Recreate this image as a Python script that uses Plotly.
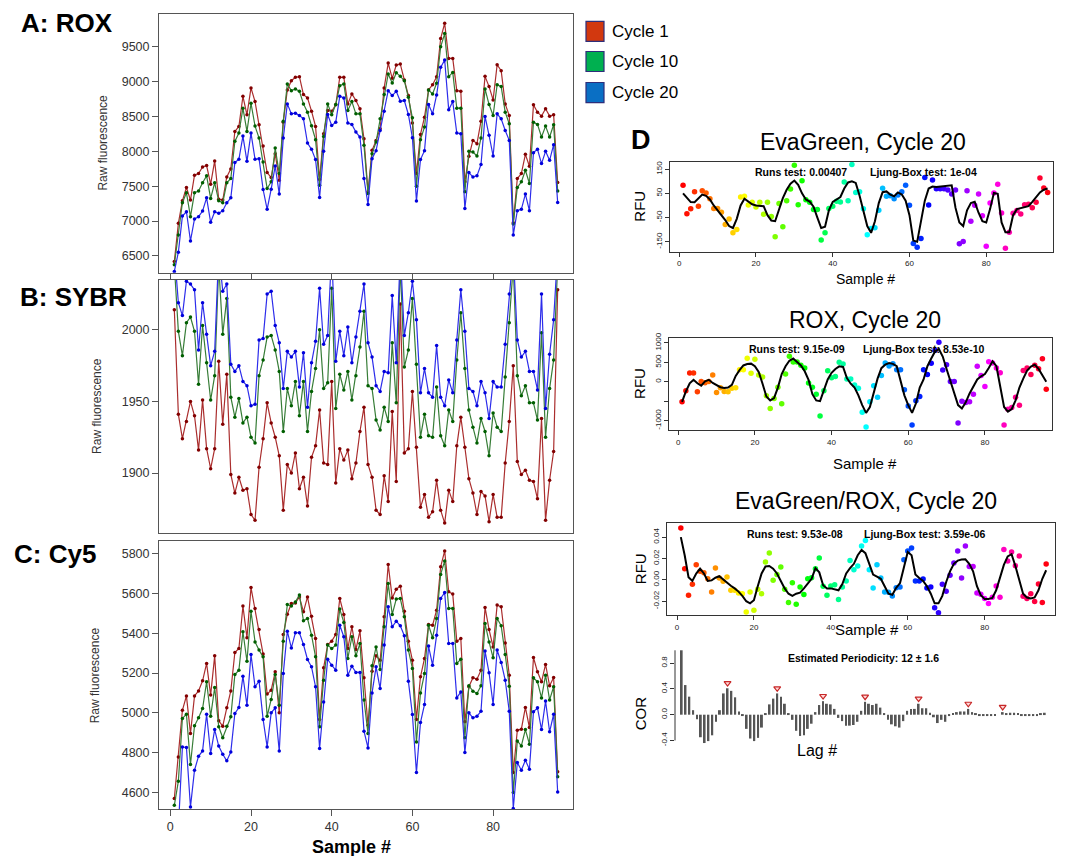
import colorsys
import plotly.graph_objects as go

# page body has an 8px margin, so the figure is 1060x848 and drawn at offset (8, 8)
W, H = 1060, 848
OFF = 8
FONT = "Liberation Sans, Arial, sans-serif"

samples = list(range(1, 97))

# ---------------- Panel A: ROX raw fluorescence ----------------
rox_c1 = [6419, 6967, 7290, 7481, 7300, 7657, 7681, 7776, 7795, 7529, 7862, 7314, 7300, 7633, 7748, 8286,
          8357, 8790, 8524, 8910, 8714, 8381, 8076, 7695, 7624, 7967, 7586, 8419, 8881, 9014, 9062, 9071,
          8814, 8767, 8576, 8357, 7595, 8252, 8586, 8576, 8667, 9062, 9062, 8681, 8824, 8729, 8610, 8181,
          7419, 8014, 8157, 8324, 8910, 9267, 9048, 9238, 9252, 9024, 8800, 8405, 7681, 8243, 8490, 8881,
          8957, 9071, 9619, 9838, 9333, 9333, 8871, 8862, 7562, 7929, 8157, 8110, 8433, 9076, 8929, 8738,
          9243, 9157, 8681, 8514, 6976, 7610, 7681, 7957, 7786, 8667, 8562, 8505, 8610, 8505, 8524, 7552]
rox_c10 = [6372, 6800, 7262, 7405, 7062, 7405, 7429, 7548, 7648, 7324, 7548, 7290, 7262, 7548, 7610, 8143,
           8262, 8619, 8286, 8690, 8362, 8190, 7848, 7467, 7562, 8048, 7681, 8433, 8967, 8871, 8895, 8862,
           8681, 8562, 8367, 8167, 7514, 8214, 8681, 8524, 8671, 8943, 8967, 8586, 8714, 8538, 8538, 8086,
           7395, 7967, 8133, 8467, 8814, 9110, 8981, 9129, 9076, 9014, 8776, 8481, 7500, 8167, 8348, 8881,
           8824, 8976, 9500, 9690, 9071, 9133, 8619, 8619, 7419, 8000, 7991, 7933, 8190, 8895, 8671, 8514,
           8957, 8929, 8562, 8395, 6957, 7481, 7562, 7729, 7538, 8419, 8386, 8205, 8362, 8205, 8381, 7429]
rox_c20 = [6276, 6552, 7071, 7133, 6714, 7029, 7062, 7143, 7333, 6981, 7133, 7110, 7148, 7262, 7333, 7838,
           7886, 8219, 7857, 8262, 7886, 7895, 7452, 7167, 7457, 7790, 7386, 8190, 8681, 8538, 8548, 8514,
           8467, 8119, 8029, 7881, 7338, 8000, 8529, 8371, 8419, 8790, 8767, 8405, 8386, 8276, 8205, 7610,
           7238, 7895, 8010, 8300, 8576, 8871, 8800, 8862, 8719, 8729, 8529, 8195, 7286, 7881, 8010, 8671,
           8538, 8810, 9205, 9310, 8595, 8714, 8262, 8252, 7181, 7695, 7633, 7648, 7810, 8500, 8229, 7933,
           8538, 8467, 8300, 8157, 6800, 7148, 7167, 7386, 7148, 7981, 8029, 7824, 8000, 7871, 8095, 7267]

# ---------------- Panel B: SYBR raw fluorescence ----------------
sybr_c1 = [2014, 1941, 1924, 1936, 1950, 1940, 1916, 1951, 1917, 1903, 1917, 1978, 1934, 1969, 1899, 1886,
           1897, 1888, 1889, 1871, 1867, 1904, 1924, 1949, 1935, 1925, 1912, 1874, 1906, 1900, 1914, 1889,
           1897, 1877, 1911, 1919, 1944, 1907, 1906, 1964, 1893, 1917, 1909, 1916, 1896, 1907, 1929, 1946,
           1906, 1897, 1874, 1871, 1898, 1880, 1943, 1894, 2018, 1914, 1917, 1957, 1918, 1876, 1885, 1869,
           1873, 1895, 1874, 1865, 1888, 1880, 1919, 1939, 1918, 1896, 1886, 1871, 1887, 1884, 1866, 1885,
           1869, 1869, 1907, 1936, 1975, 1908, 1899, 1902, 1895, 1894, 1882, 1938, 1867, 1895, 1915, 2028]
sybr_c10 = [2045, 1999, 1982, 2005, 2009, 1999, 1962, 2003, 1977, 1951, 1968, 2045, 1997, 2022, 1953, 1939,
            1952, 1935, 1939, 1925, 1921, 1968, 1979, 1995, 1996, 1986, 1971, 1929, 1959, 1947, 1964, 1940,
            1964, 1929, 1957, 1973, 2000, 1959, 1963, 2029, 1945, 1969, 1958, 1971, 1951, 1968, 1988, 2013,
            1961, 1959, 1937, 1930, 1946, 1936, 1991, 1949, 2045, 1974, 1986, 2022, 1976, 1925, 1941, 1926,
            1925, 1960, 1926, 1919, 1944, 1936, 1979, 2012, 1973, 1944, 1932, 1921, 1938, 1929, 1912, 1942,
            1932, 1929, 1967, 2005, 2045, 1968, 1954, 1961, 1949, 1949, 1937, 1998, 1925, 1959, 1979, 2045]
sybr_c20 = [2055, 2019, 2010, 2034, 2032, 2028, 1986, 2019, 1997, 1975, 1985, 2055, 2027, 2032, 1976, 1971,
            1975, 1964, 1961, 1947, 1948, 1993, 1994, 2025, 2027, 2003, 1991, 1959, 1985, 1981, 1985, 1960,
            1984, 1946, 1977, 1992, 2029, 1990, 1996, 2055, 1978, 1999, 1982, 2002, 1977, 1995, 2013, 2032,
            1991, 1981, 1961, 1957, 1971, 1970, 2024, 1977, 2055, 1996, 2012, 2034, 2007, 1956, 1973, 1956,
            1953, 1989, 1953, 1947, 1965, 1956, 1993, 2028, 1999, 1959, 1957, 1947, 1964, 1956, 1938, 1964,
            1960, 1960, 1990, 2025, 2055, 1993, 1981, 1985, 1971, 1971, 1958, 2025, 1945, 1983, 2007, 2055]

# ---------------- Panel C: Cy5 raw fluorescence ----------------
cy5_c1 = [4570, 4779, 5013, 5085, 4896, 5085, 5110, 5161, 5248, 5089, 5286, 4960, 4933, 5025, 5110, 5303,
          5323, 5536, 5377, 5629, 5524, 5418, 5295, 5094, 5114, 5206, 5000, 5393, 5495, 5549, 5552, 5582,
          5507, 5582, 5485, 5373, 4967, 5226, 5343, 5360, 5393, 5574, 5494, 5323, 5432, 5318, 5412, 5176,
          4938, 5209, 5286, 5264, 5482, 5745, 5577, 5621, 5636, 5510, 5360, 5264, 4967, 5181, 5273, 5444,
          5440, 5515, 5733, 5813, 5608, 5596, 5360, 5373, 4955, 5131, 5176, 5169, 5214, 5529, 5418, 5331,
          5541, 5532, 5351, 5189, 4700, 4913, 4918, 5027, 4926, 5278, 5206, 5156, 5243, 5136, 5177, 4704]
cy5_c10 = [4536, 4657, 4972, 4993, 4741, 4935, 4975, 5022, 5156, 4983, 5127, 4930, 4875, 4933, 4980, 5192,
           5214, 5407, 5259, 5510, 5356, 5315, 5281, 4983, 5067, 5192, 5038, 5360, 5544, 5536, 5557, 5591,
           5462, 5474, 5390, 5281, 4930, 5164, 5340, 5323, 5340, 5521, 5454, 5273, 5382, 5286, 5348, 5065,
           4896, 5236, 5331, 5218, 5432, 5649, 5494, 5571, 5574, 5482, 5315, 5223, 4854, 5100, 5197, 5440,
           5377, 5474, 5695, 5762, 5524, 5524, 5248, 5269, 4875, 5136, 5109, 5097, 5136, 5449, 5356, 5276,
           5474, 5437, 5293, 5134, 4600, 4859, 4834, 4916, 4843, 5176, 5156, 5075, 5189, 5065, 5131, 4679]
cy5_c20 = [4440, 4420, 4829, 4826, 4528, 4712, 4782, 4809, 4993, 4796, 4916, 4833, 4792, 4759, 4804, 4997,
           5027, 5184, 5038, 5293, 5131, 5159, 4967, 4829, 5000, 5025, 4808, 5197, 5410, 5326, 5402, 5402,
           5343, 5268, 5231, 5131, 4821, 5055, 5269, 5239, 5214, 5440, 5382, 5189, 5234, 5203, 5203, 4908,
           4824, 5100, 5231, 5122, 5340, 5532, 5432, 5460, 5437, 5387, 5159, 4992, 4700, 4951, 5042, 5335,
           5239, 5390, 5574, 5604, 5348, 5348, 5075, 5105, 4801, 5000, 4975, 4983, 5008, 5310, 5201, 5042,
           5315, 5253, 5164, 5008, 4520, 4751, 4712, 4762, 4717, 5005, 5025, 4916, 5059, 4905, 4993, 4603]

# ---------------- Panel D: detrended Cycle 20 signals and smooths ----------------
eva_pts = [83, -34, -14, 57, -3, 61, 51, 28, -12, -12, -28, -79, -56, -113, -99, 35,
           38, 2, 13, -6, 13, -36, 13, -45, -129, 8, -88, 20, 68, 166, 3, 102,
           24, 13, -17, -17, -142, -113, -12, -3, 17, 14, 97, 20, 169, 54, 57, -14,
           -121, -95, -92, -20, 71, 38, 40, 28, 43, 57, 83, 1, -157, -172, -136, 116,
           2, 105, 69, 69, 69, 64, 47, 64, -158, -149, 61, -65, 1, 47, -42, -168,
           10, 51, 88, -31, -177, -111, -32, -21, -35, 3, 5, -9, 13, 113, 72, 54]
eva_fit = [50, 30, 14, 13, 30, 45, 40, 25, 0, -20, -40, -60, -85, -93, -55, 0,
           28, 18, 5, 0, 0, -3, -40, -62, -65, -20, 30, 65, 90, 103, 85, 50,
           25, 16, -5, -50, -93, -88, -20, 15, 25, 35, 70, 95, 100, 93, 40, -20,
           -85, -113, -65, 10, 55, 58, 45, 38, 54, 45, 20, -40, -145, -150, -60, 20,
           70, 78, 76, 78, 80, 82, 83, -10, -70, -85, -20, 10, 15, -30, -65, -70,
           -15, 52, 48, -70, -110, -110, -40, -15, -10, -5, -3, 15, 35, 54, 65, 70]

rox_pts = [-517, -233, 224, 224, -259, 9, -26, 9, 172, -276, -155, -250, -259, -164, -155, 310,
           310, 603, 216, 578, 172, 121, -362, -690, -431, -138, -569, 198, 655, 509, 509, 422,
           353, -34, -138, -319, -879, -233, 284, 103, 138, 500, 457, 69, 69, -86, -164, -784,
           -1164, -517, -103, -397, 164, 483, 405, 466, 310, 310, -207, -621, -1112, -491, -379, 310,
           190, 474, 810, 1017, 302, 440, 9, 9, -1060, -500, -534, -517, -319, 397, 164, -121,
           517, 483, 353, 233, -1112, -707, -664, -397, -603, 293, 353, 190, 422, 336, 595, -190]
rox_fit = [-517, -250, -40, 50, -40, -100, 10, 50, -30, -90, -140, -160, -150, -78, 150, 300,
           420, 455, 466, 400, 250, -50, -380, -480, -420, -150, 200, 400, 540, 600, 510, 420,
           270, 50, -320, -480, -500, -200, 60, 230, 330, 397, 380, 95, -50, -150, -350, -600,
           -800, -650, -250, 80, 350, 440, 480, 460, 400, 50, -350, -600, -800, -560, -150, 60,
           400, 600, 780, 845, 650, 330, 0, -300, -600, -690, -530, -300, -121, 60, 140, 200,
           353, 526, 400, -120, -650, -767, -700, -480, -150, 80, 290, 390, 440, 330, 150, 0]

ratio_pts = [0.0484, 0.0105, -0.0144, -0.0042, 0.0142, 0.0080, 0.0067, 0.0011, -0.0113, 0.0111, 0.0017, -0.0014,
             0.0027, -0.0098, -0.0098, -0.0123, -0.0129, -0.0300, -0.0113, -0.0284, -0.0088, -0.0129, 0.0167, 0.0251,
             -0.0004, 0.0049, 0.0120, -0.0088, -0.0213, -0.0026, -0.0228, -0.0067, -0.0138, 0.0011, 0.0020, 0.0105,
             0.0204, -0.0060, -0.0144, -0.0057, -0.0045, -0.0185, -0.0067, -0.0011, 0.0182, 0.0095, 0.0129, 0.0316,
             0.0369, 0.0095, -0.0076, 0.0142, 0.0017, -0.0113, -0.0116, -0.0150, -0.0073, -0.0067, 0.0189, 0.0269,
             0.0297, -0.0011, -0.0011, 0.0008, -0.0076, -0.0067, -0.0262, -0.0309, -0.0042, -0.0107, 0.0042, 0.0157,
             0.0269, 0.0017, 0.0316, 0.0126, 0.0126, -0.0123, -0.0135, -0.0175, -0.0222, -0.0163, -0.0057, -0.0163,
             0.0285, 0.0176, 0.0260, 0.0133, 0.0223, -0.0153, -0.0175, -0.0129, -0.0203, -0.0039, -0.0213, 0.0148]
ratio_fit = [0.040, 0.023, 0.0025, -0.001, 0.0058, 0.0105, 0.006, -0.001, -0.0005, 0.002, 0.0035, 0.0005,
             -0.003, -0.0055, -0.008, -0.011, -0.015, -0.020, -0.022, -0.019, -0.006, 0.006, 0.0125, 0.013,
             0.0105, 0.006, -0.001, -0.008, -0.013, -0.015, -0.013, -0.012, -0.008, -0.003, 0.001, 0.011,
             0.007, -0.005, -0.008, -0.008, -0.009, -0.0098, -0.004, 0.006, 0.011, 0.015, 0.023, 0.028,
             0.025, 0.014, 0.005, 0.003, 0.001, -0.006, -0.013, -0.014, -0.0075, -0.003, 0.012, 0.026,
             0.023, 0.005, 0.0017, -0.001, -0.006, -0.013, -0.022, -0.022, -0.015, -0.002, 0.008, 0.015,
             0.018, 0.019, 0.0192, 0.015, 0.008, -0.006, -0.0144, -0.018, -0.018, -0.017, -0.0098, 0.002,
             0.014, 0.022, 0.024, 0.013, -0.0005, -0.013, -0.0165, -0.0175, -0.0165, -0.0098, 0.001, 0.009]

lags = list(range(0, 96))
acf_vals = [1.0, 0.46, 0.28, 0.07, -0.07, -0.35, -0.44, -0.41, -0.32, -0.11, 0.07, 0.33,
            0.41, 0.37, 0.27, 0.05, -0.02, -0.22, -0.37, -0.41, -0.36, -0.20, 0.02, 0.16,
            0.25, 0.33, 0.28, 0.17, 0.02, -0.08, -0.25, -0.33, -0.32, -0.22, -0.14, 0.04,
            0.15, 0.21, 0.17, 0.16, 0.09, -0.05, -0.10, -0.17, -0.17, -0.16, -0.11, 0.06,
            0.20, 0.17, 0.15, 0.17, 0.11, 0.02, -0.08, -0.15, -0.18, -0.20, -0.10, 0.06,
            0.09, 0.09, 0.17, 0.10, 0.10, 0.03, -0.04, -0.13, -0.08, -0.11, -0.02, 0.02,
            0.04, 0.05, 0.05, 0.09, 0.04, 0.01, -0.01, -0.01, -0.02, -0.01, -0.01, 0.00,
            0.04, 0.01, 0.03, 0.03, 0.02, -0.02, -0.02, -0.02, -0.02, -0.01, 0.01, 0.03]
peak_lags = [12, 25, 37, 48, 62, 75, 84]

legend_labels = ["Cycle 1", "Cycle 10", "Cycle 20"]
legend_colors = ["#D2380F", "#00B050", "#0A6FC4"]

# ---------------- helpers (page pixels -> paper fractions) ----------------
def X(px):
    return (px - OFF) / W

def Y(py):
    # small empirical vertical correction so the rendered page matches the target pixels
    py = py - 6.3 * (792 - py) / 746
    v = 1 - (py - OFF) / H
    return min(1.0, max(0.0, v))

line_cols = ["rgb(170,45,45)", "rgb(55,125,55)", "rgb(45,45,235)"]
mark_cols = ["rgb(130,0,0)", "rgb(0,95,0)", "rgb(0,0,220)"]

rainbow = []
for i in range(96):
    r, g, b = colorsys.hsv_to_rgb(i / 96.0, 1, 1)
    rainbow.append("rgb(%d,%d,%d)" % (int(r * 255), int(g * 255), int(b * 255)))

fig = go.Figure()

raw_sets = [(rox_c1, rox_c10, rox_c20), (sybr_c1, sybr_c10, sybr_c20), (cy5_c1, cy5_c10, cy5_c20)]
for p, series in enumerate(raw_sets):
    ax = "" if p == 0 else str(p + 1)
    for k, vals in enumerate(series):
        fig.add_trace(go.Scatter(
            x=samples, y=vals, mode="lines+markers",
            line=dict(color=line_cols[k], width=1.2),
            marker=dict(color=mark_cols[k], size=3.5),
            xaxis="x" + ax, yaxis="y" + ax, showlegend=False, cliponaxis=True))

d_sets = [(eva_pts, eva_fit, "4"), (rox_pts, rox_fit, "5"), (ratio_pts, ratio_fit, "6")]
for pts, fit, ax in d_sets:
    fig.add_trace(go.Scatter(x=samples, y=pts, mode="markers",
                             marker=dict(color=rainbow, size=5.5),
                             xaxis="x" + ax, yaxis="y" + ax, showlegend=False))
    fig.add_trace(go.Scatter(x=samples, y=fit, mode="lines",
                             line=dict(color="black", width=2),
                             xaxis="x" + ax, yaxis="y" + ax, showlegend=False))

fig.add_trace(go.Bar(x=lags, y=acf_vals, width=0.5, marker=dict(color="#555555", line=dict(width=0)),
                     xaxis="x7", yaxis="y7", showlegend=False))
fig.add_trace(go.Scatter(x=peak_lags, y=[acf_vals[l] + 0.08 for l in peak_lags], mode="markers",
                         marker=dict(symbol="triangle-down", size=6, color="rgb(255,215,215)",
                                     line=dict(color="rgb(200,40,40)", width=1.2)),
                         xaxis="x7", yaxis="y7", showlegend=False))

tickfont = dict(family=FONT, size=12.5, color="#333333")
small_tick = dict(family=FONT, size=8, color="#222222")

def raw_x(dom, show_labels):
    return dict(domain=dom, range=[-2.8, 99.8], showgrid=False, zeroline=False,
                showline=True, mirror=True, linecolor="#555555", linewidth=1,
                ticks="outside", ticklen=6, tickcolor="#555555",
                tickvals=[0, 20, 40, 60, 80], showticklabels=show_labels, tickfont=tickfont)

def raw_y(dom, rng, tv, anchor):
    return dict(domain=dom, range=rng, showgrid=False, zeroline=False,
                showline=True, mirror=True, linecolor="#555555", linewidth=1,
                ticks="outside", ticklen=6, tickcolor="#555555", tickvals=tv,
                tickfont=tickfont, anchor=anchor)

xdomA = [X(159), X(573)]
layout = dict(
    width=W, height=H, margin=dict(l=0, r=0, t=0, b=0),
    paper_bgcolor="white", plot_bgcolor="white", showlegend=False,
    font=dict(family=FONT),
    xaxis=dict(raw_x(xdomA, False), anchor="y"),
    yaxis=raw_y([Y(273), Y(13)], [6257, 9971], [6500, 7000, 7500, 8000, 8500, 9000, 9500], "x"),
    xaxis2=dict(raw_x(xdomA, False), anchor="y2", ticks=""),
    yaxis2=raw_y([Y(533), Y(280)], [1858, 2035], [1900, 1950, 2000], "x2"),
    xaxis3=dict(raw_x(xdomA, True), anchor="y3"),
    yaxis3=raw_y([Y(809), Y(541)], [4515, 5862], [4600, 4800, 5000, 5200, 5400, 5600, 5800], "x3"),
)

def d_x(dom, rng, anchor):
    return dict(domain=dom, range=rng, anchor=anchor, showgrid=False, zeroline=False,
                showline=True, mirror=True, linecolor="#333333", linewidth=1,
                ticks="outside", ticklen=4, tickcolor="#333333",
                tickvals=[0, 20, 40, 60, 80], tickfont=small_tick)

def d_y(dom, rng, tv, tt, anchor):
    return dict(domain=dom, range=rng, anchor=anchor, showgrid=False, zeroline=False,
                showline=True, mirror=True, linecolor="#333333", linewidth=1,
                ticks="outside", ticklen=4, tickcolor="#333333",
                tickvals=tv, ticktext=tt, tickangle=-90, tickfont=small_tick)

layout["xaxis4"] = d_x([X(670), X(1053)], [-2.4, 97.4], "y4")
layout["yaxis4"] = d_y([Y(252), Y(162)], [-191, 181], [-150, -50, 50, 150], ["-150", "-50", "50", "150"], "x4")
layout["xaxis5"] = d_x([X(669), X(1052)], [-2.4, 97.5], "y5")
layout["yaxis5"] = d_y([Y(430), Y(338)], [-1241, 1130], [-1000, -500, 0, 500, 1000],
                       ["-1000", "", "0", "500", "1000"], "x5")
layout["xaxis6"] = d_x([X(667), X(1055)], [-2.6, 98.3], "y6")
layout["yaxis6"] = d_y([Y(615), Y(523)], [-0.0331, 0.0531], [-0.02, 0.0, 0.02, 0.04],
                       ["-0.02", "0.00", "0.02", "0.04"], "x6")
layout["xaxis7"] = dict(domain=[X(675), X(1060)], range=[-1.75, 99.0], anchor="y7",
                        showgrid=False, zeroline=False, showline=False, showticklabels=False, ticks="")
layout["yaxis7"] = dict(domain=[Y(746.5), Y(646.8)], range=[-0.5, 1.05], anchor="x7",
                        showgrid=False, zeroline=False, showline=False,
                        ticks="outside", ticklen=4, tickcolor="#333333",
                        tickvals=[-0.4, 0.0, 0.4, 0.8], ticktext=["-0.4", "0.0", "0.4", "0.8"],
                        tickangle=-90, tickfont=small_tick)

shapes = [dict(type="line", xref="x7 domain", yref="y7", x0=0, x1=0, y0=-0.4, y1=1.0,
               line=dict(color="#333333", width=1))]

sw_y = [(22, 42), (52, 72), (83, 103)]
for (y0, y1), col in zip(sw_y, legend_colors):
    shapes.append(dict(type="rect", xref="paper", yref="paper", x0=X(586), x1=X(604), y0=Y(y1), y1=Y(y0),
                       fillcolor=col, line=dict(color="#2E2E7A", width=1.2)))

ann = []
def text(x, y, s, size, bold=False, angle=0, color="black", xanchor="center"):
    ann.append(dict(x=X(x), y=Y(y), xref="paper", yref="paper", text=("<b>%s</b>" % s) if bold else s,
                    showarrow=False, xanchor=xanchor, yanchor="middle", textangle=angle,
                    font=dict(family=FONT, size=size, color=color)))

for (y0, y1), lab in zip(sw_y, legend_labels):
    text(610, (y0 + y1) / 2, lab, 17, xanchor="left")

text(67, 24, "A: ROX", 26, bold=True)
text(73, 297, "B: SYBR", 26, bold=True)
text(55, 554, "C: Cy5", 26, bold=True)
text(103, 143, "Raw fluorescence", 12, angle=-90, color="#333333")
text(97, 406, "Raw fluorescence", 12, angle=-90, color="#333333")
text(95, 675, "Raw fluorescence", 12, angle=-90, color="#333333")
text(351, 846, "Sample #", 18, bold=True)

text(641, 140, "D", 27, bold=True)
text(863, 142, "EvaGreen, Cycle 20", 23)
text(865, 320, "ROX, Cycle 20", 23)
text(866, 501, "EvaGreen/ROX, Cycle 20", 23)

text(801, 172, "Runs test: 0.00407", 10.5, bold=True)
text(923, 172, "Ljung-Box test: 1e-04", 10.5, bold=True)
text(797, 349, "Runs test: 9.15e-09", 10.5, bold=True)
text(924, 349, "Ljung-Box test: 8.53e-10", 10.5, bold=True)
text(795, 534, "Runs test: 9.53e-08", 10.5, bold=True)
text(925, 534, "Ljung-Box test: 3.59e-06", 10.5, bold=True)
text(863, 658, "Estimated Periodicity: 12 \u00b1 1.6", 10.5, bold=True)

for yc in [207, 384, 569]:
    text(640, yc, "RFU", 15, angle=-90)
text(640, 713, "COR", 15, angle=-90)
text(865, 279, "Sample #", 14)
text(865, 463, "Sample #", 15)
text(867, 629, "Sample #", 15)
text(817, 750, "Lag #", 16)

layout["shapes"] = shapes
layout["annotations"] = ann
fig.update_layout(**layout)
fig.write_html("out.html")
